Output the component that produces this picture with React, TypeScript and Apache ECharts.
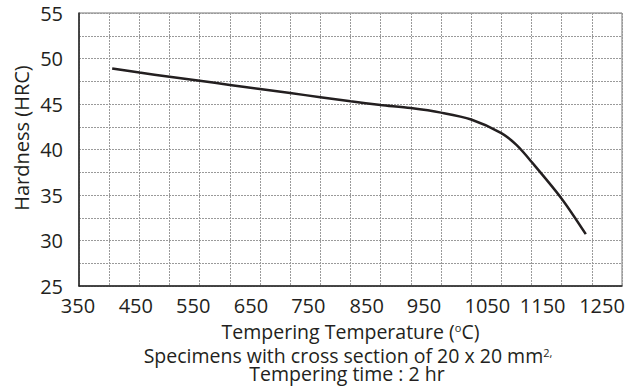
import React, { useEffect, useRef } from "react";
import * as echarts from "echarts";

const temperatures = [405, 450, 500, 550, 600, 650, 700, 750, 800, 850, 900, 950, 1000, 1050, 1075, 1100, 1150, 1190];
const hardness = [48.9, 48.45, 48.0, 47.55, 47.1, 46.65, 46.2, 45.75, 45.3, 44.9, 44.55, 44.05, 43.3, 41.8, 40.5, 38.65, 34.6, 30.7];
const xTickLabels = [350, 450, 550, 650, 750, 850, 950, 1050, 1150, 1250];
const yTickLabels = [25, 30, 35, 40, 45, 50, 55];
// horizontal shift (px) of each x tick label relative to its gridline, as in the reference
const xLabelShift = [-1, -3.5, -6.5, -9, -12, -14, -17, -14, -19, -20];

const FONT = "'Open Sans', sans-serif";
const TEXT = "#231f20";
const FS = 20;

export default function App() {
  const ref = useRef<HTMLDivElement>(null);
  useEffect(() => {
    if (!ref.current) return;
    const chart = echarts.init(ref.current, null, { renderer: "svg" });
    const gridLine = { show: true, lineStyle: { color: "#9a9a9a", width: 1, type: [2, 1] as any } };
    const xRich: Record<string, any> = {};
    xLabelShift.forEach((s, i) => {
      xRich["l" + i] = {
        fontSize: FS,
        fontFamily: FONT,
        color: TEXT,
        padding: [0, Math.max(0, -2 * s), 0, Math.max(0, 2 * s)],
      };
    });
    chart.setOption({
      animation: false,
      textStyle: { fontFamily: FONT },
      grid: {
        left: 79,
        right: 5,
        top: 13,
        bottom: 100,
        show: true,
        borderColor: "#777",
        borderWidth: 1,
        outerBoundsMode: "none",
        containLabel: false,
      },
      xAxis: {
        type: "value",
        min: 350,
        max: 1250,
        interval: 50,
        axisLine: { show: true, lineStyle: { color: "#222", width: 1.5 } },
        axisTick: { show: false },
        splitLine: gridLine,
        axisLabel: {
          color: TEXT,
          fontSize: FS,
          fontFamily: FONT,
          margin: 9,
          hideOverlap: false,
          formatter: (v: number) => {
            const i = xTickLabels.indexOf(v);
            return i >= 0 ? `{l${i}|${v}}` : "";
          },
          rich: xRich,
        },
        name: "Tempering Temperature ({sup|o}C)",
        nameLocation: "middle",
        nameGap: 36,
        nameTextStyle: {
          color: TEXT,
          fontSize: 19.5,
          lineHeight: 18,
          fontFamily: FONT,
          rich: {
            sup: { fontSize: 11, lineHeight: 18, verticalAlign: "top", color: TEXT, fontFamily: FONT, padding: [0, 0, 7, 0] },
          },
        },
      },
      yAxis: {
        type: "value",
        min: 25,
        max: 55,
        interval: 2.5,
        axisLine: { show: true, lineStyle: { color: "#222", width: 1.5 } },
        axisTick: { show: false },
        splitLine: gridLine,
        axisLabel: {
          color: TEXT,
          fontSize: FS,
          fontFamily: FONT,
          margin: 16,
          formatter: (v: number) => (yTickLabels.includes(v) ? String(v) : ""),
        },
      },
      graphic: [
        {
          type: "text",
          x: 21,
          y: 138,
          rotation: Math.PI / 2,
          style: {
            text: "Hardness (HRC)",
            fill: TEXT,
            font: `${FS}px ${FONT}`,
            align: "center",
            verticalAlign: "middle",
          },
        },
        {
          type: "text",
          x: 348,
          y: 355,
          style: {
            text: "Specimens with cross section of 20 x 20 mm{sup|2,}",
            fill: TEXT,
            font: `19.5px ${FONT}`,
            lineHeight: 17,
            align: "center",
            verticalAlign: "middle",
            rich: {
              sup: { fontSize: 11, lineHeight: 17, verticalAlign: "top", fill: TEXT, fontFamily: FONT, padding: [0, 0, 7, 0] },
            },
          },
        },
        {
          type: "text",
          x: 347,
          y: 373,
          style: {
            text: "Tempering time : 2 hr",
            fill: TEXT,
            font: `19.5px ${FONT}`,
            lineHeight: 17,
            align: "center",
            verticalAlign: "middle",
          },
        },
      ],
      series: [
        {
          type: "line",
          data: temperatures.map((t, i) => [t, hardness[i]]),
          smooth: 0.3,
          showSymbol: false,
          lineStyle: { color: "#231f20", width: 2.5 },
        },
      ],
    });
    return () => chart.dispose();
  }, []);
  return <div ref={ref} style={{ width: 627, height: 386, position: "absolute", left: 0, top: 0 }} />;
}
